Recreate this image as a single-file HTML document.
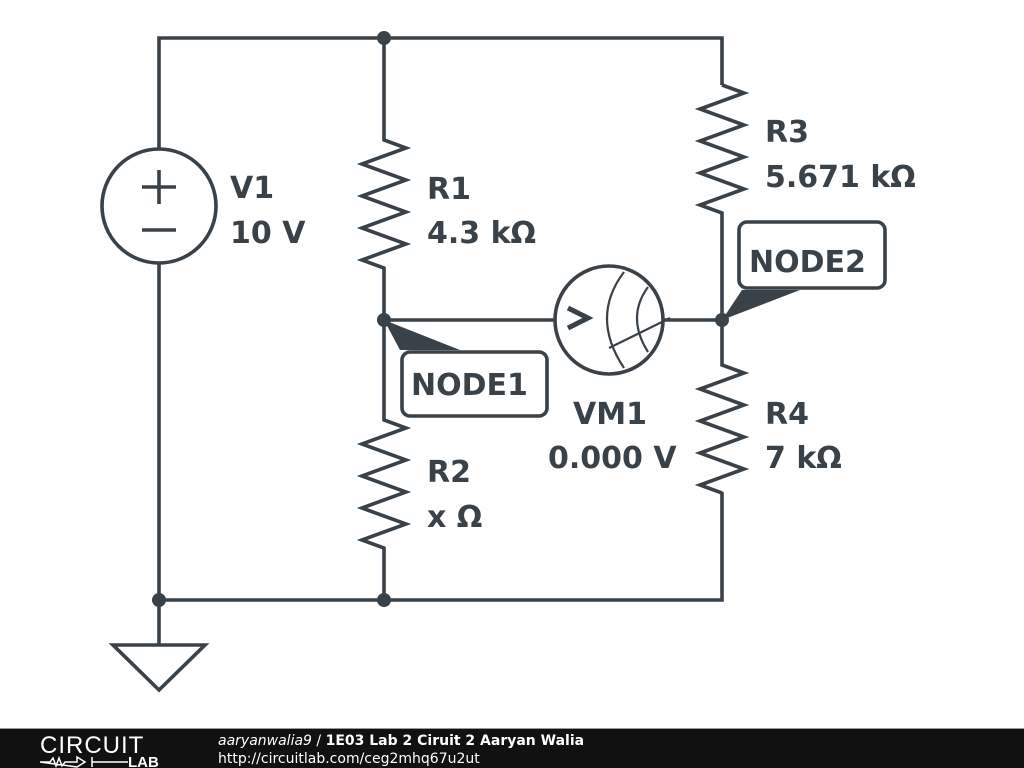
<!DOCTYPE html>
<html><head><style>
body{margin:0;width:1024px;height:768px;background:#fff;overflow:hidden;font-family:"DejaVu Sans","Liberation Sans",sans-serif}
</style></head><body>
<svg width="1024" height="768" xmlns="http://www.w3.org/2000/svg" style="position:absolute;left:0;top:0">
<g stroke="#3a4249" stroke-width="3.6" fill="none" stroke-linejoin="miter">
<path d="M159 148V38H722V85"/>
<path d="M159 264V645"/>
<path d="M159 600H722V492"/>
<path d="M384 38V140l22 8l-44 16l44 16l-44 16l44 16l-44 16l44 16l-44 16l22 8V420l22 8l-44 16l44 16l-44 16l44 16l-44 16l44 16l-44 16l22 8V600"/>
<path d="M722 85l22 8l-44 16l44 16l-44 16l44 16l-44 16l44 16l-44 16l22 8V365l22 8l-44 16l44 16l-44 16l44 16l-44 16l44 16l-44 16l22 8"/>
<path d="M384 320H555M663 320H722"/>
<circle cx="159" cy="206" r="57"/>
<circle cx="609" cy="320" r="54"/>
<path d="M113 645H205L159 690Z"/>
<path d="M142 187h34M159 170v34M142 230h34"/>
<path d="M624 272q-34 45 0 96M648 287q-22 30 0 65M609 348l61-30" stroke-width="2.2"/>
<path d="M568 308l20 10l-20 10" stroke-width="5"/>
<rect x="402" y="352" width="145" height="64" rx="8"/>
<rect x="739" y="222" width="146" height="66" rx="8"/>
</g>
<g fill="#3a4249">
<circle cx="384" cy="38" r="7"/><circle cx="384" cy="320" r="7"/><circle cx="384" cy="600" r="7"/><circle cx="159" cy="600" r="7"/><circle cx="722" cy="320" r="7"/>
<path d="M384 320L400 350H460Z"/>
<path d="M722 320L742 290H800Z"/>
</g>
<g fill="#3a4249" font-weight="bold" font-size="30">
<text x="230" y="198">V1</text><text x="230" y="243">10 V</text>
<text x="427" y="199">R1</text><text x="427" y="243">4.3 kΩ</text>
<text x="765" y="142">R3</text><text x="765" y="187">5.671 kΩ</text>
<text x="427" y="482">R2</text><text x="427" y="527">x Ω</text>
<text x="765" y="424">R4</text><text x="765" y="468">7 kΩ</text>
<text x="573" y="424">VM1</text><text x="548" y="468">0.000 V</text>
<text x="411" y="395">NODE1</text><text x="749" y="272">NODE2</text>
</g>
<rect x="0" y="729" width="1024" height="39" fill="#111"/>
<rect x="0" y="728" width="1024" height="1" fill="#999"/>
<text x="40" y="753" fill="#fff" font-size="24" font-family="Liberation Sans,sans-serif" letter-spacing="1">CIRCUIT</text>
<path d="M40 762h10l3-4 3 8 3-8 3 8 3-4h12l0-5 8 5-8 5z M92 757v10 M92 762h36" stroke="#fff" stroke-width="1.5" fill="none"/>
<text x="128" y="767" fill="#fff" font-size="15" font-weight="bold" font-family="Liberation Sans,sans-serif">LAB</text>
<text x="218" y="745" fill="#fff" font-size="14"><tspan font-style="italic">aaryanwalia9</tspan> / <tspan font-weight="bold">1E03 Lab 2 Ciruit 2 Aaryan Walia</tspan></text>
<text x="218" y="763" fill="#fff" font-size="14">http://circuitlab.com/ceg2mhq67u2ut</text>
</svg>
</body></html>
